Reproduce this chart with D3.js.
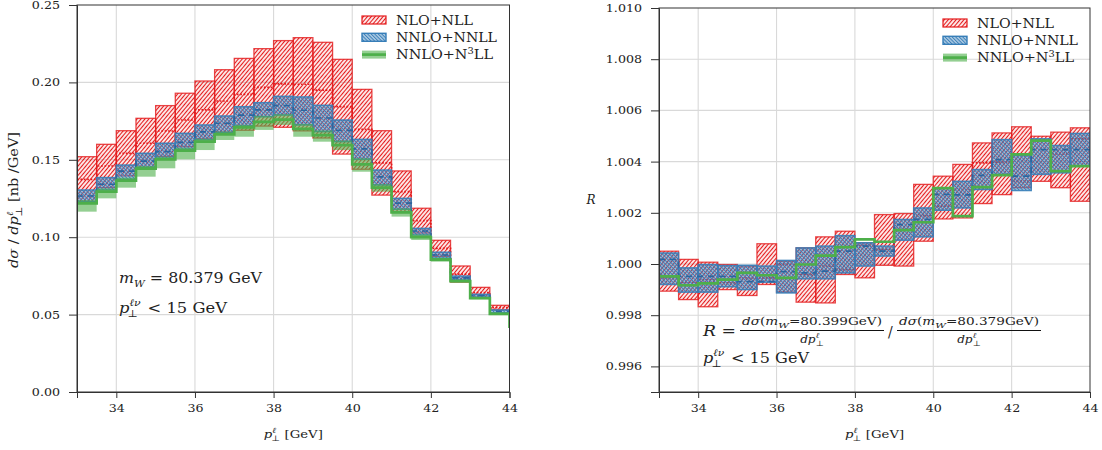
<!DOCTYPE html>
<html><head><meta charset="utf-8">
<script src="https://cdn.jsdelivr.net/npm/d3@7"></script>
<style>
body{margin:0;background:#fff}
svg text{font-family:"DejaVu Serif",serif;fill:#222}
</style>
</head><body>
<svg id="c" width="1102" height="450"></svg>
<script>
// ---------------- data ----------------
const binLo = [33,33.5,34,34.5,35,35.5,36,36.5,37,37.5,38,38.5,39,39.5,40,40.5,41,41.5,42,42.5,43,43.5,44];
const binWidth = 0.5;
const xTickValues = [34,36,38,40,42,44];
const leftYTicks = [0,0.05,0.10,0.15,0.20,0.25];
const rightYTicks = [0.996,0.998,1.000,1.002,1.004,1.006,1.008,1.010];
const seriesNames = ["NLO+NLL","NNLO+NNLL","NNLO+N\u00b3LL"];

// left panel: d sigma / d pT  [nb/GeV]
const xsNloHi  = [0.1520,0.1600,0.1688,0.1768,0.1850,0.1930,0.2009,0.2082,0.2155,0.2218,0.2270,0.2289,0.2259,0.2149,0.1955,0.1688,0.1428,0.1187,0.0980,0.0814,0.0676,0.0560];
const xsNloMid = [0.1374,0.1460,0.1542,0.1607,0.1686,0.1757,0.1822,0.1880,0.1923,0.1968,0.1990,0.1988,0.1950,0.1843,0.1697,0.1480,0.1294,0.1107,0.0928,0.0762,0.0642,0.0545];
const xsNloLo  = [0.1228,0.1320,0.1396,0.1446,0.1522,0.1584,0.1635,0.1678,0.1691,0.1718,0.1710,0.1687,0.1641,0.1537,0.1439,0.1272,0.1160,0.1027,0.0876,0.0710,0.0608,0.0530];
const xsNnloHi  = [0.1305,0.1385,0.1466,0.1542,0.1607,0.1671,0.1725,0.1783,0.1843,0.1869,0.1910,0.1906,0.1852,0.1757,0.1632,0.1434,0.1251,0.1057,0.0903,0.0749,0.0631,0.0530];
const xsNnloMid = [0.1266,0.1342,0.1427,0.1492,0.1553,0.1613,0.1680,0.1736,0.1789,0.1822,0.1850,0.1820,0.1770,0.1690,0.1570,0.1390,0.1220,0.1040,0.0885,0.0737,0.0622,0.0521];
const xsNnloLo  = [0.1229,0.1305,0.1374,0.1451,0.1510,0.1568,0.1628,0.1675,0.1718,0.1778,0.1789,0.1725,0.1682,0.1617,0.1503,0.1337,0.1180,0.1014,0.0864,0.0723,0.0612,0.0512];
const xsN3llHi  = [0.1240,0.1315,0.1385,0.1460,0.1520,0.1578,0.1636,0.1683,0.1726,0.1784,0.1795,0.1732,0.1690,0.1625,0.1510,0.1343,0.1186,0.1018,0.0868,0.0726,0.0614,0.0514];
const xsN3llMid = [0.1218,0.1294,0.1365,0.1443,0.1503,0.1559,0.1617,0.1664,0.1710,0.1745,0.1760,0.1700,0.1660,0.1595,0.1470,0.1320,0.1160,0.1000,0.0855,0.0716,0.0606,0.0505,0.0422];
const xsN3llLo  = [0.1165,0.1251,0.1320,0.1391,0.1445,0.1503,0.1563,0.1628,0.1649,0.1693,0.1725,0.1649,0.1617,0.1563,0.1423,0.1294,0.1133,0.0982,0.0842,0.0706,0.0599,0.0497];

// right panel: ratio R
const rNloHi  = [1.00050,1.00018,1.00007,0.99998,0.99992,1.00079,1.00011,1.00063,1.00106,1.00128,1.00083,1.00193,1.00197,1.00311,1.00343,1.00389,1.00473,1.00512,1.00536,1.00499,1.00515,1.00532];
const rNloMid = [0.99946,0.99928,0.99939,0.99926,0.99946,0.99946,0.99998,0.99959,0.99992,0.99978,1.00073,1.00057,1.00135,1.00189,1.00226,1.00291,1.00395,1.00398,1.00323,1.00480,1.00430,1.00489];
const rNloLo  = [0.99894,0.99861,0.99833,0.99900,0.99877,0.99920,0.99890,0.99851,0.99848,0.99959,0.99946,0.99995,0.99992,1.00089,1.00176,1.00180,1.00236,1.00271,1.00298,1.00323,1.00298,1.00245];
const rNnloHi  = [1.00043,0.99985,0.99998,0.99994,0.99995,0.99992,1.00014,1.00063,1.00070,1.00111,1.00083,1.00070,1.00174,1.00219,1.00296,1.00323,1.00369,1.00486,1.00424,1.00489,1.00463,1.00510];
const rNnloMid = [1.00018,0.99952,0.99952,0.99952,0.99931,0.99931,0.99970,0.99965,0.99972,1.00050,1.00070,1.00050,1.00154,1.00174,1.00272,1.00270,1.00346,1.00408,1.00343,1.00447,1.00447,1.00447];
const rNnloLo  = [0.99920,0.99890,0.99890,0.99911,0.99900,0.99929,0.99887,0.99942,0.99942,0.99965,0.99992,1.00031,1.00093,1.00106,1.00210,1.00219,1.00291,1.00350,1.00287,1.00350,1.00356,1.00382];
const rN3ll    = [0.99952,0.99917,0.99924,0.99939,0.99965,0.99956,0.99946,0.99998,1.00033,1.00066,1.00096,1.00087,1.00132,1.00163,1.00296,1.00187,1.00300,1.00347,1.00428,1.00482,1.00363,1.00382];

// ---------------- style ----------------
const RED = "#e41a1c", BLUE = "#377eb8", GREEN = "#4daf4a";
const SX = 1.15; // horizontal text stretch
const svg = d3.select("#c");
const defs = svg.append("defs");

function hatch(id, color, size, angle, sw) {
  defs.append("pattern").attr("id", id).attr("patternUnits", "userSpaceOnUse")
    .attr("width", size).attr("height", size).attr("patternTransform", `rotate(${angle})`)
    .append("line").attr("x1", size/2).attr("x2", size/2).attr("y1", 0).attr("y2", size)
    .attr("stroke", color).attr("stroke-width", sw);
}
hatch("hRed", RED, 3.0, 40, 1.25);
hatch("hBlue", BLUE, 2.5, -45, 1.6);

function stretch(sel, sx) {
  sel.each(function() {
    const t = d3.select(this);
    const xv = +t.attr("x") || 0;
    t.attr("x", xv / sx).attr("transform", `scale(${sx},1)`);
  });
}

function stepPoints(vals) {
  const pts = vals.map((v, i) => [binLo[i], v]);
  pts.push([binLo[vals.length - 1] + binWidth, vals[vals.length - 1]]);
  return pts;
}

function drawPanel(cfg) {
  const g = svg.append("g");
  const x = d3.scaleLinear().domain([33, 44]).range([cfg.x0, cfg.x1]);
  const y = d3.scaleLinear().domain(cfg.yDomain).range([392, cfg.y0]);
  const [yb, yt] = y.range();

  // grid
  g.append("g").selectAll("line").data(xTickValues.filter(t => t < 44)).join("line")
    .attr("x1", d => x(d)).attr("x2", d => x(d)).attr("y1", yb).attr("y2", yt)
    .attr("stroke", "#d9d9d9").attr("stroke-width", 1.1);
  g.append("g").selectAll("line").data(cfg.yTicks.filter(t => y(t) < yb - 1 && y(t) > yt + 1)).join("line")
    .attr("x1", cfg.x0).attr("x2", cfg.x1).attr("y1", d => y(d)).attr("y2", d => y(d))
    .attr("stroke", "#d9d9d9").attr("stroke-width", 1.1);

  const clipId = "clip" + cfg.id;
  defs.append("clipPath").attr("id", clipId).append("rect")
    .attr("x", cfg.x0).attr("y", yt).attr("width", cfg.x1 - cfg.x0).attr("height", yb - yt);
  const plot = g.append("g").attr("clip-path", `url(#${clipId})`);

  const bandRects = (hi, lo) => hi.map((h, i) => ({x0: binLo[i], h, l: lo[i]}));
  const line = d3.line().x(d => x(d[0])).y(d => y(d[1])).curve(d3.curveStepAfter);

  // NLO+NLL
  plot.append("g").selectAll("rect").data(bandRects(cfg.nloHi, cfg.nloLo)).join("rect")
    .attr("x", d => x(d.x0)).attr("width", d => x(d.x0 + binWidth) - x(d.x0))
    .attr("y", d => y(d.h)).attr("height", d => y(d.l) - y(d.h))
    .attr("fill", "url(#hRed)").attr("stroke", RED).attr("stroke-opacity", 0.8).attr("stroke-width", 1.3);
  plot.append("path").attr("d", line(stepPoints(cfg.nloMid))).attr("fill", "none")
    .attr("stroke", RED).attr("stroke-width", 1.7).attr("stroke-dasharray", "1.7,1.7");

  // NNLO+NNLL
  plot.append("g").selectAll("rect").data(bandRects(cfg.nnloHi, cfg.nnloLo)).join("rect")
    .attr("x", d => x(d.x0)).attr("width", d => x(d.x0 + binWidth) - x(d.x0))
    .attr("y", d => y(d.h)).attr("height", d => y(d.l) - y(d.h))
    .attr("fill", "url(#hBlue)").attr("stroke", BLUE).attr("stroke-opacity", 0.9).attr("stroke-width", 1.5);
  plot.append("path").attr("d", line(stepPoints(cfg.nnloMid))).attr("fill", "none")
    .attr("stroke", "#2a66a0").attr("stroke-width", 1.7).attr("stroke-dasharray", "6,5");

  // NNLO+N3LL
  if (cfg.n3Hi) {
    plot.append("g").selectAll("rect").data(bandRects(cfg.n3Hi, cfg.n3Lo)).join("rect")
      .attr("x", d => x(d.x0)).attr("width", d => x(d.x0 + binWidth) - x(d.x0))
      .attr("y", d => y(d.h)).attr("height", d => y(d.l) - y(d.h))
      .attr("fill", GREEN).attr("fill-opacity", 0.6).attr("stroke", "none");
  }
  plot.append("path").attr("d", line(stepPoints(cfg.n3Mid))).attr("fill", "none")
    .attr("stroke", GREEN).attr("stroke-width", 2.7);

  // axes
  const axB = g.append("g").attr("transform", `translate(0,${yb})`)
    .call(d3.axisBottom(x).tickValues(xTickValues).tickSize(6).tickPadding(6).tickFormat(d3.format("d")));
  const axL = g.append("g").attr("transform", `translate(${cfg.x0},0)`)
    .call(d3.axisLeft(y).tickValues(cfg.yTicks).tickSize(8).tickPadding(9).tickFormat(d3.format(cfg.fmt)));
  [axB, axL].forEach(a => {
    a.attr("font-family", "DejaVu Serif").attr("font-size", 11);
    a.selectAll(".domain").attr("stroke", "#333");
    a.selectAll(".tick line").attr("stroke", "#333");
    a.selectAll("text").attr("fill", "#333");
    stretch(a.selectAll("text"), SX);
  });
  // frame
  g.append("rect").attr("x", cfg.x0).attr("y", yt).attr("width", cfg.x1 - cfg.x0).attr("height", yb - yt)
    .attr("fill", "none").attr("stroke", "#333").attr("stroke-width", 1);

  // legend
  const lg = g.append("g").attr("transform", `translate(${cfg.legX},${cfg.legY})`);
  const rowH = 17.3;
  lg.append("rect").attr("x", 0).attr("y", 0).attr("width", 24).attr("height", 8)
    .attr("fill", "url(#hRed)").attr("stroke", RED).attr("stroke-width", 1.2);
  lg.append("rect").attr("x", 0).attr("y", rowH).attr("width", 24).attr("height", 8)
    .attr("fill", "url(#hBlue)").attr("stroke", BLUE).attr("stroke-width", 1.4);
  lg.append("rect").attr("x", 0).attr("y", 2 * rowH).attr("width", 24).attr("height", 8)
    .attr("fill", GREEN).attr("fill-opacity", 0.6);
  lg.append("line").attr("x1", 0).attr("x2", 24).attr("y1", 2 * rowH + 4).attr("y2", 2 * rowH + 4)
    .attr("stroke", GREEN).attr("stroke-width", 2.7);
  const lens = [77, 101, 97];
  seriesNames.forEach((nm, i) => {
    const t = lg.append("text").attr("x", 34).attr("y", i * rowH + 8.5).attr("font-size", 12.5)
      .attr("textLength", lens[i]).attr("lengthAdjust", "spacingAndGlyphs");
    if (i === 2) {
      t.append("tspan").text("NNLO+N");
      t.append("tspan").attr("dy", -5).attr("font-size", 8.5).text("3");
      t.append("tspan").attr("dy", 5).text("LL");
    } else t.text(nm);
  });

  // x label
  const xl = g.append("text").attr("x", (cfg.x0 + cfg.x1) / 2).attr("y", 438).attr("text-anchor", "middle").attr("font-size", 11.5);
  xl.append("tspan").attr("font-style", "italic").text("p");
  xl.append("tspan").attr("dy", -5).attr("font-size", 8).attr("font-style", "italic").text("\u2113");
  xl.append("tspan").attr("dx", -4).attr("dy", 8).attr("font-size", 8).text("\u22a5");
  xl.append("tspan").attr("dx", 4).attr("dy", -3).text("[GeV]");
  stretch(xl, SX);
  return {g, x, y};
}

const L = drawPanel({id: "L", x0: 77, x1: 509.5, y0: 5, yDomain: [0, 0.25], yTicks: leftYTicks, fmt: ".2f",
  nloHi: xsNloHi, nloMid: xsNloMid, nloLo: xsNloLo, nnloHi: xsNnloHi, nnloMid: xsNnloMid, nnloLo: xsNnloLo,
  n3Hi: xsN3llHi, n3Mid: xsN3llMid, n3Lo: xsN3llLo, legX: 362, legY: 16});
const R = drawPanel({id: "R", x0: 659, x1: 1090, y0: 8, yDomain: [0.995, 1.010], yTicks: rightYTicks, fmt: ".3f",
  nloHi: rNloHi, nloMid: rNloMid, nloLo: rNloLo, nnloHi: rNnloHi, nnloMid: rNnloMid, nnloLo: rNnloLo,
  n3Mid: rN3ll, legX: 943, legY: 19});

// y labels
const yl = svg.append("text").attr("transform", "translate(18,200) rotate(-90)").attr("text-anchor", "middle").attr("font-size", 12.5)
  .attr("textLength", 136).attr("lengthAdjust", "spacingAndGlyphs");
yl.append("tspan").attr("font-style", "italic").text("d\u03c3");
yl.append("tspan").text(" / ");
yl.append("tspan").attr("font-style", "italic").text("dp");
yl.append("tspan").attr("dy", -5).attr("font-size", 9).attr("font-style", "italic").text("\u2113");
yl.append("tspan").attr("dx", -4).attr("dy", 9).attr("font-size", 9).text("\u22a5");
yl.append("tspan").attr("dy", -4).text(" [nb /GeV]");

svg.append("text").attr("x", 591).attr("y", 204).attr("text-anchor", "middle").attr("font-size", 12)
  .attr("font-style", "italic").text("R");

// annotations
function ptCut(x, y, w) {
  const t = svg.append("text").attr("x", x).attr("y", y).attr("font-size", 15)
    .attr("textLength", w).attr("lengthAdjust", "spacingAndGlyphs");
  t.append("tspan").attr("font-style", "italic").text("p");
  t.append("tspan").attr("dy", -7).attr("font-size", 10).attr("font-style", "italic").text("\u2113\u03bd");
  t.append("tspan").attr("dx", -12).attr("dy", 11).attr("font-size", 10).text("\u22a5");
  t.append("tspan").attr("dx", 9).attr("dy", -4).text("< 15 GeV");
  return t;
}
const mw = svg.append("text").attr("x", 119).attr("y", 283).attr("font-size", 15)
  .attr("textLength", 143).attr("lengthAdjust", "spacingAndGlyphs");
mw.append("tspan").attr("font-style", "italic").text("m");
mw.append("tspan").attr("dy", 4).attr("font-size", 10).attr("font-style", "italic").text("W");
mw.append("tspan").attr("dy", -4).text(" = 80.379 GeV");
ptCut(119, 313, 108);

// ratio definition
function frac(cx, mass) {
  const num = svg.append("text").attr("x", cx).attr("y", 325).attr("text-anchor", "middle").attr("font-size", 10.5)
    .attr("textLength", 140).attr("lengthAdjust", "spacingAndGlyphs");
  num.append("tspan").attr("font-style", "italic").text("d\u03c3");
  num.append("tspan").text("(");
  num.append("tspan").attr("font-style", "italic").text("m");
  num.append("tspan").attr("dy", 3).attr("font-size", 8).attr("font-style", "italic").text("W");
  num.append("tspan").attr("dy", -3).text("=" + mass + "GeV)");
  svg.append("line").attr("x1", cx - 72).attr("x2", cx + 72).attr("y1", 330.5).attr("y2", 330.5)
    .attr("stroke", "#111").attr("stroke-width", 1);
  const den = svg.append("text").attr("x", cx).attr("y", 343).attr("text-anchor", "middle").attr("font-size", 10.5);
  den.append("tspan").attr("font-style", "italic").text("dp");
  den.append("tspan").attr("dy", -5).attr("font-size", 7.5).attr("font-style", "italic").text("\u2113");
  den.append("tspan").attr("dx", -3).attr("dy", 8).attr("font-size", 7.5).text("\u22a5");
  stretch(den, SX);
}
const req = svg.append("text").attr("x", 703).attr("y", 336).attr("font-size", 15);
req.append("tspan").attr("font-style", "italic").text("R");
req.append("tspan").text(" =");
stretch(req, SX);
frac(812, "80.399");
svg.append("text").attr("x", 888).attr("y", 337).attr("font-size", 14).text("/");
frac(969, "80.379");
ptCut(703, 363, 106);
</script>
</body></html>
